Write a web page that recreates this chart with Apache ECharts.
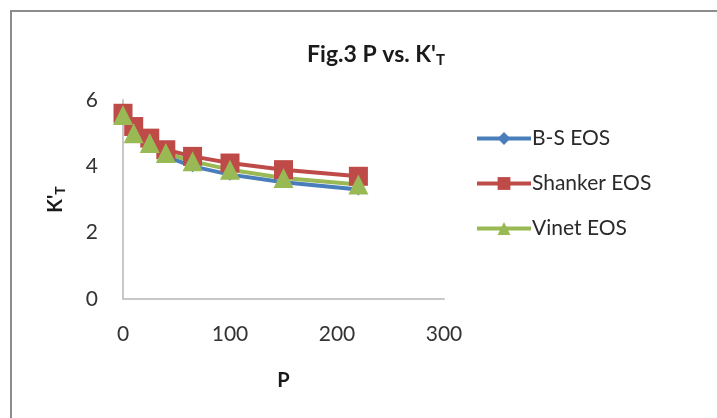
<!DOCTYPE html>
<html>
<head>
<meta charset="utf-8">
<script src="https://cdn.jsdelivr.net/npm/echarts@6/dist/echarts.min.js"></script>
<style>
  html, body { margin: 0; padding: 0; background: #fff; }
  #chart { width: 717px; height: 418px; }
</style>
</head>
<body>
<div id="chart"></div>
<script>
  // data
  var pressure = [0, 10, 25, 40, 65, 100, 150, 220];
  var bsEos = [5.5, 4.95, 4.6, 4.3, 4.0, 3.75, 3.52, 3.3];
  var shankerEos = [5.6, 5.2, 4.85, 4.5, 4.3, 4.1, 3.9, 3.7];
  var vinetEos = [5.55, 5.0, 4.7, 4.4, 4.15, 3.9, 3.65, 3.45];
  var seriesNames = ['B-S EOS', 'Shanker EOS', 'Vinet EOS'];

  function pairs(ys) {
    return pressure.map(function (p, i) { return [p, ys[i]]; });
  }

  var myChart = echarts.init(document.getElementById('chart'));
  var font = 'Lato, Open Sans, sans-serif';

  myChart.setOption({
    backgroundColor: '#fff',
    animation: false,
    graphic: [{
      type: 'rect',
      shape: { x: 11, y: 11, width: 740, height: 440 },
      style: { fill: 'none', stroke: '#8c8c8c', lineWidth: 2 },
      silent: true
    }],
    title: {
      text: "{a|Fig.3 P vs. K'}{s|T}",
      left: 371,
      top: 36,
      textAlign: 'center',
      textStyle: {
        rich: {
          a: { fontFamily: font, fontSize: 23, fontWeight: 'bold', color: '#1a1a1a' },
          s: { fontFamily: font, fontSize: 15, fontWeight: 'bold', color: '#1a1a1a', verticalAlign: 'bottom', padding: [12, 0, 0, 0] }
        }
      }
    },
    legend: {
      orient: 'vertical',
      left: 470,
      top: 123,
      itemWidth: 54,
      itemHeight: 16,
      itemGap: 24,
      lineStyle: { width: 4 },
      textStyle: { fontFamily: font, fontSize: 21, color: '#2a2a2a', padding: [0, 0, 0, -4] },
      data: seriesNames
    },
    grid: { left: 123, right: 273, top: 100, bottom: 119 },
    xAxis: {
      type: 'value',
      min: 0,
      max: 300,
      interval: 100,
      name: 'P',
      nameLocation: 'middle',
      nameGap: 72,
      nameTextStyle: { fontFamily: font, fontSize: 20, fontWeight: 'bold', color: '#1a1a1a' },
      axisLine: { lineStyle: { color: '#c8c8c8', width: 2 } },
      axisTick: { show: false },
      splitLine: { show: false },
      axisLabel: { margin: 25, fontFamily: font, fontSize: 21, color: '#333' }
    },
    yAxis: {
      type: 'value',
      min: 0,
      max: 6,
      interval: 2,
      name: "{a|K'}{s|T}",
      nameLocation: 'middle',
      nameGap: 56,
      nameRotate: 90,
      nameTextStyle: {
        rich: {
          a: { fontFamily: font, fontSize: 20, fontWeight: 'bold', color: '#1a1a1a' },
          s: { fontFamily: font, fontSize: 14, fontWeight: 'bold', color: '#1a1a1a', verticalAlign: 'bottom', padding: [9, 0, 0, 0] }
        }
      },
      axisLine: { show: true, lineStyle: { color: '#c8c8c8', width: 2 } },
      axisTick: { show: false },
      splitLine: { show: false },
      axisLabel: { margin: 25, fontFamily: font, fontSize: 21, color: '#333' }
    },
    series: [{
      name: seriesNames[0],
      type: 'line',
      symbol: 'diamond',
      symbolSize: 12,
      itemStyle: { color: '#4a7ebb' },
      lineStyle: { color: '#4a7ebb', width: 4 },
      data: pairs(bsEos)
    }, {
      name: seriesNames[1],
      type: 'line',
      symbol: 'rect',
      symbolSize: 19,
      itemStyle: { color: '#be4b48' },
      lineStyle: { color: '#be4b48', width: 4 },
      data: pairs(shankerEos)
    }, {
      name: seriesNames[2],
      type: 'line',
      symbol: 'triangle',
      symbolSize: 20,
      itemStyle: { color: '#98b954' },
      lineStyle: { color: '#98b954', width: 4 },
      data: pairs(vinetEos)
    }]
  });
</script>
</body>
</html>
